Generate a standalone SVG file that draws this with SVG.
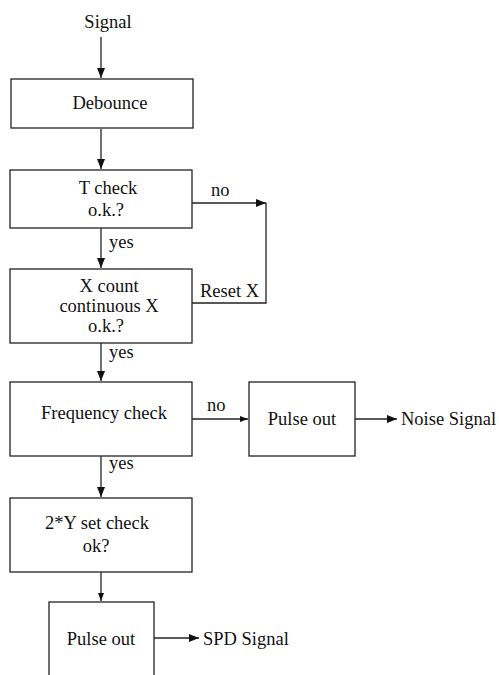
<svg xmlns="http://www.w3.org/2000/svg" width="499" height="675" viewBox="0 0 499 675" font-family="'Liberation Serif', 'Times New Roman', 'DejaVu Serif', serif">
  <style>
    .box { fill: #fff; stroke: #222; stroke-width: 1.3; }
    .wire { fill: none; stroke: #222; stroke-width: 1.3; }
    text { font-family: 'Liberation Serif', 'Times New Roman', 'DejaVu Serif', serif; font-size: 18.5px; fill: #111; }
    .c { text-anchor: middle; }
  </style>
  <defs>
    <marker id="arr" viewBox="0 0 10 8" refX="10" refY="4" markerWidth="10" markerHeight="8" markerUnits="userSpaceOnUse" orient="auto">
      <path d="M0,0 L10,4 L0,8 Z" fill="#111"/>
    </marker>
    <marker id="arrS" viewBox="0 0 8 6" refX="8" refY="3" markerWidth="8" markerHeight="6" markerUnits="userSpaceOnUse" orient="auto">
      <path d="M0,0 L8,3 L0,6 Z" fill="#111"/>
    </marker>
  </defs>

  <rect width="499" height="675" fill="#fff"/>

  <g id="connectors">
    <line class="wire" x1="101" y1="37" x2="101" y2="78" marker-end="url(#arr)"/>
    <line class="wire" x1="101" y1="129" x2="101" y2="169" marker-end="url(#arr)"/>
    <line class="wire" x1="101" y1="228" x2="101" y2="268" marker-end="url(#arr)"/>
    <line class="wire" x1="101" y1="343" x2="101" y2="381" marker-end="url(#arr)"/>
    <line class="wire" x1="101" y1="456" x2="101" y2="497" marker-end="url(#arr)"/>
    <line class="wire" x1="101" y1="572" x2="101" y2="601" marker-end="url(#arrS)"/>
    <line class="wire" x1="192" y1="203" x2="266" y2="203" marker-end="url(#arr)"/>
    <polyline class="wire" points="266,203 266,303 192,303"/>
    <line class="wire" x1="192" y1="419" x2="248" y2="419" marker-end="url(#arrS)"/>
    <line class="wire" x1="355" y1="419" x2="397" y2="419" marker-end="url(#arr)"/>
    <line class="wire" x1="154" y1="638" x2="199" y2="638" marker-end="url(#arr)"/>
    <text x="211" y="196">no</text>
    <text x="200" y="297">Reset X</text>
    <text x="109" y="248">yes</text>
    <text x="109" y="358">yes</text>
    <text x="207" y="411">no</text>
    <text x="109" y="469">yes</text>
  </g>

  <g id="signal-in">
    <text class="c" x="108" y="28">Signal</text>
  </g>

  <g id="debounce">
    <rect class="box" x="11" y="79" width="182" height="49"/>
    <text class="c" x="110" y="109">Debounce</text>
  </g>

  <g id="t-check">
    <rect class="box" x="10" y="170" width="182" height="58"/>
    <text class="c" x="108" y="194">T check</text>
    <text class="c" x="106" y="216">o.k.?</text>
  </g>

  <g id="x-count">
    <rect class="box" x="10" y="269" width="182" height="74"/>
    <text class="c" x="109" y="292">X count</text>
    <text class="c" x="109" y="312">continuous X</text>
    <text class="c" x="106" y="332">o.k.?</text>
  </g>

  <g id="frequency-check">
    <rect class="box" x="10" y="382" width="182" height="74"/>
    <text class="c" x="104" y="419">Frequency check</text>
  </g>

  <g id="pulse-out-noise">
    <rect class="box" x="249" y="382" width="106" height="74"/>
    <text class="c" x="302" y="425">Pulse out</text>
  </g>

  <g id="noise-signal">
    <text x="401" y="425">Noise Signal</text>
  </g>

  <g id="y-set-check">
    <rect class="box" x="10" y="498" width="182" height="74"/>
    <text class="c" x="97" y="529">2*Y set check</text>
    <text class="c" x="96" y="552">ok?</text>
  </g>

  <g id="pulse-out-spd">
    <rect class="box" x="49" y="602" width="105" height="90"/>
    <text class="c" x="101" y="645">Pulse out</text>
  </g>

  <g id="spd-signal">
    <text x="203" y="645">SPD Signal</text>
  </g>
</svg>
